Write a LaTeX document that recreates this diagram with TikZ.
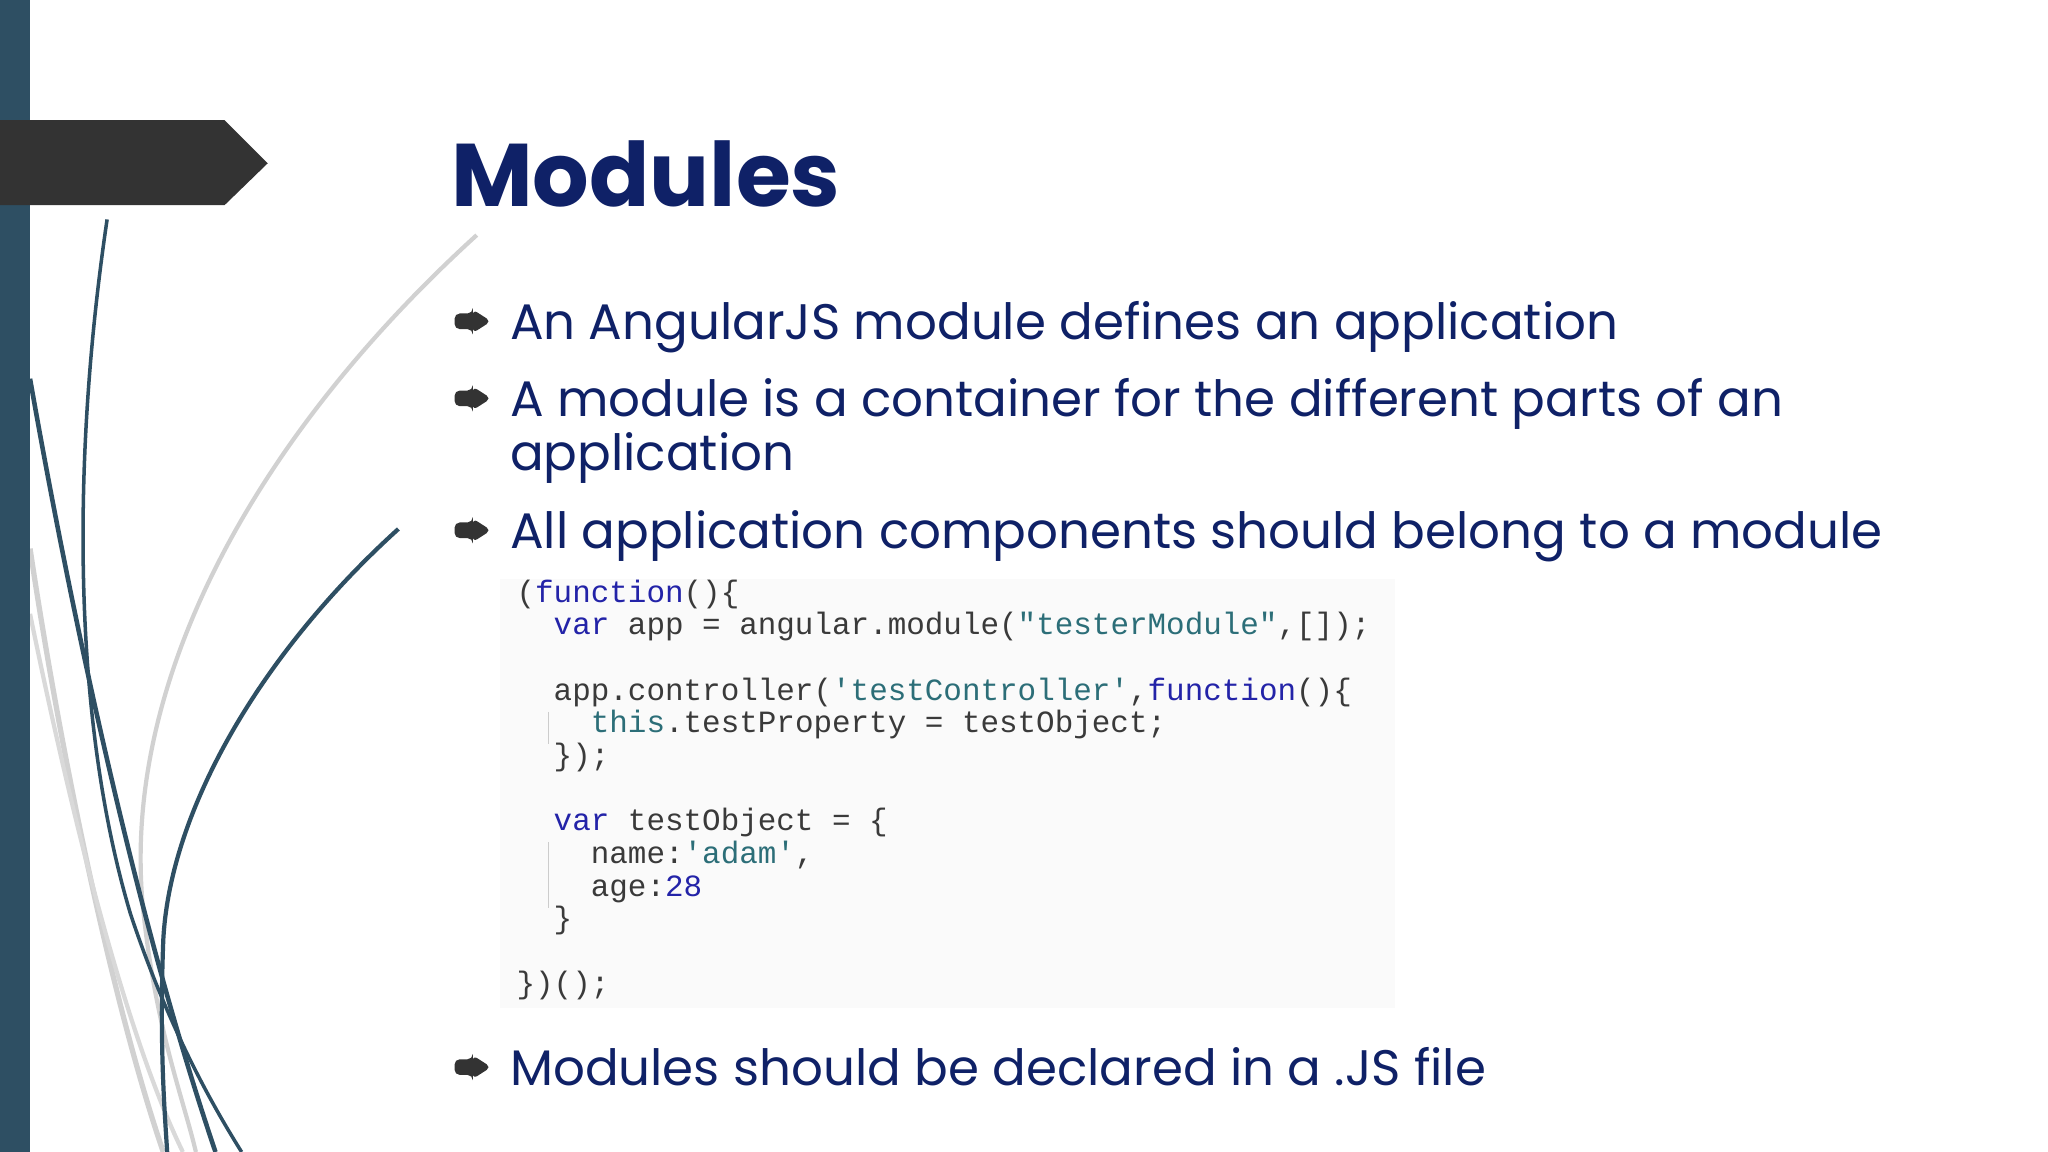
\documentclass[tikz,border=0pt]{standalone}
\usepackage{fontspec}
\setmainfont{Poppins}
\setmonofont{Liberation Mono}
\definecolor{navy}{HTML}{0F2167}
\definecolor{teal}{HTML}{2E4F63}
\definecolor{kw}{HTML}{2323A8}
\definecolor{str}{HTML}{2C6E78}
\definecolor{codetxt}{HTML}{3A3A3A}
\newcommand{\kwd}[1]{\textcolor{kw}{#1}}
\newcommand{\strg}[1]{\textcolor{str}{#1}}
\tikzset{
  bul/.style={anchor=base west,text=navy,font=\fontsize{14.2}{17}\selectfont,inner sep=0pt,align=left},
  cl/.style={anchor=base west,text=codetxt,font=\ttfamily\fontsize{8.8}{10}\selectfont,inner sep=0pt},
  arrowmark/.style={fill=black!80,rounded corners=1.5pt}
}
\begin{document}
\begin{tikzpicture}[x=0.013061cm,y=-0.013061cm]
\useasboundingbox (0,0) rectangle (1568,882);
\fill[white] (0,0) rectangle (1568,882);
% decorative curves
\draw[black!18,line width=1.2pt] (365,180) .. controls (200,330) and (90,520) .. (110,700) .. controls (120,790) and (140,840) .. (150,882);
\draw[black!18,line width=1.5pt] (23,420) .. controls (50,600) and (90,780) .. (125,882);
\draw[black!15,line width=1.2pt] (23,470) .. controls (60,650) and (100,800) .. (140,882);
\draw[teal,line width=1pt] (82,168) .. controls (55,350) and (55,550) .. (100,700) .. controls (130,790) and (165,850) .. (185,882);
\draw[teal,line width=1.2pt] (305,405) .. controls (200,500) and (130,620) .. (125,720) .. controls (122,800) and (126,850) .. (128,882);
\draw[teal,line width=1.3pt] (23,290) .. controls (60,500) and (110,720) .. (165,882);
% left bar and banner
\fill[teal] (0,0) rectangle (23,882);
\fill[black!80] (0,92) -- (172,92) -- (205,125) -- (172,157) -- (0,157) -- cycle;
% title
\node[anchor=base west,inner sep=0pt,text=navy,font=\fontsize{25.3}{30}\selectfont\bfseries] (title) at (345,158) {Modules};
% bullets
\foreach \y/\n in {246/b1,305/b2,406/b3,817/b4}{
  \fill[arrowmark] (348,\y-6) -- (362,\y-6) -- (362,\y-9) -- (376,\y) -- (362,\y+9) -- (362,\y+6) -- (348,\y+6) -- cycle;
}
\node[bul] (t1) at (390,260) {An AngularJS module defines an application};
\node[bul] (t2) at (390,319) {A module is a container for the different parts of an};
\node[bul] (t2b) at (390,360) {application};
\node[bul] (t3) at (390,420) {All application components should belong to a module};
\node[bul] (t4) at (390,831) {Modules should be declared in a .JS file};
% code block
\fill[black!2] (383,443) rectangle (1068,772);
\draw[black!20] (420,545) -- (420,570);
\draw[black!20] (420,645) -- (420,695);
\node[cl] (c1) at (395,461) {(\kwd{function}()\{};
\node[cl] (c2) at (395,486) {\ \ \kwd{var} app = angular.module(\strg{"testerModule"},[]);};
\node[cl] (c3) at (395,536) {\ \ app.controller(\strg{'testController'},\kwd{function}()\{};
\node[cl] (c4) at (395,561) {\ \ \ \ \strg{this}.testProperty = testObject;};
\node[cl] (c5) at (395,586) {\ \ \});};
\node[cl] (c6) at (395,636) {\ \ \kwd{var} testObject = \{};
\node[cl] (c7) at (395,661) {\ \ \ \ name:\strg{'adam'},};
\node[cl] (c8) at (395,686) {\ \ \ \ age:\kwd{28}};
\node[cl] (c9) at (395,711) {\ \ \}};
\node[cl] (c10) at (395,761) {\})();};
\end{tikzpicture}
\end{document}
